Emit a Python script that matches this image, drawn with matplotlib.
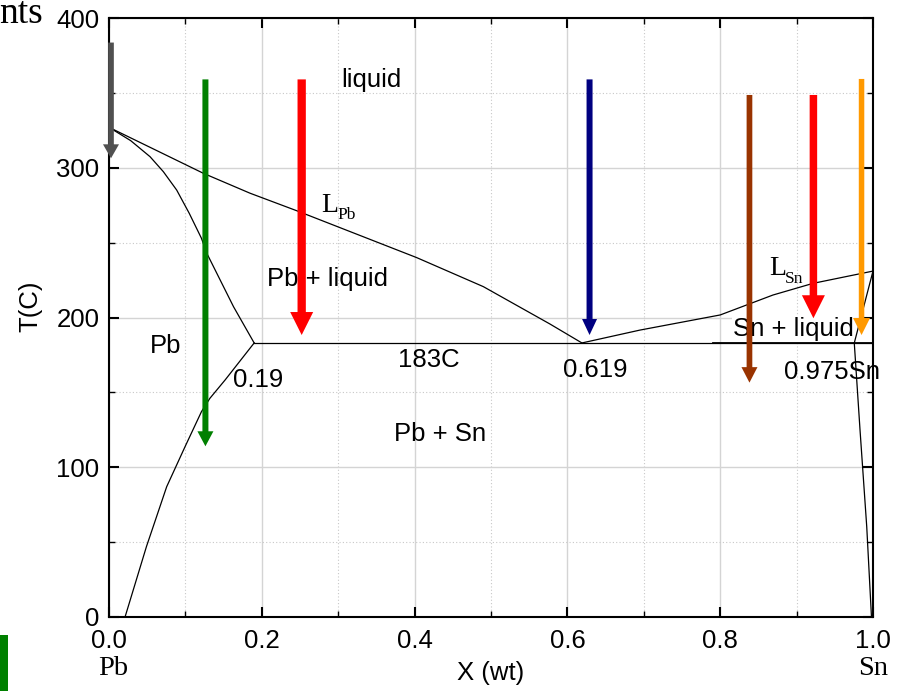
import matplotlib
matplotlib.use("Agg")
import matplotlib.pyplot as plt
from matplotlib.ticker import MultipleLocator
from matplotlib.patches import Rectangle

# ---------------- data ----------------
pb_liquidus_x = [0.0, 0.1235, 0.1846, 0.2457, 0.4027, 0.49, 0.577, 0.619]
pb_liquidus_T = [327, 296.3, 283, 271.3, 240, 220.6, 195.7, 183]

pb_solidus_x = [0.0, 0.0284, 0.0537, 0.0711, 0.0886, 0.105, 0.121, 0.128, 0.163, 0.19]
pb_solidus_T = [327, 318.1, 307.4, 297.4, 285.1, 269.6, 252.9, 242.9, 207.2, 183]

pb_solvus_x = [0.19, 0.152, 0.132, 0.121, 0.0995, 0.0755, 0.049, 0.021]
pb_solvus_T = [183, 158.3, 146, 137.1, 113.7, 87, 47, 0]

sn_liquidus_x = [0.619, 0.695, 0.8, 0.869, 0.9215, 1.0]
sn_liquidus_T = [183, 191.6, 201.7, 215, 222.8, 231]

sn_solidus_x = [1.0, 0.9755]
sn_solidus_T = [231, 183]

sn_solvus_x = [0.9755, 0.983, 0.9918, 0.998]
sn_solvus_T = [183, 125, 60.3, 0]

eutectic_x = [0.19, 1.0]
eutectic_T = [183, 183]

arrow_x = [0.0026, 0.1262, 0.2522, 0.629, 0.8383, 0.922, 0.985]
arrow_start_T = [383.6, 359, 359, 359, 348.6, 348.6, 359.3]
arrow_end_T = [306.3, 114, 188.3, 188.3, 156.5, 199.5, 188.3]

x_ticks = [0.0, 0.2, 0.4, 0.6, 0.8, 1.0]
x_ticklabels = ["0.0", "0.2", "0.4", "0.6", "0.8", "1.0"]
y_ticks = [0, 100, 200, 300, 400]
y_ticklabels = ["0", "100", "200", "300", "400"]

# ---------------- styles ----------------
arrow_colors = ['#505050', '#008000', '#ff0000', '#000080', '#993300', '#ff0000', '#ff9900']
# tail width, head width, head length (pixels)
arrow_sizes = [(5.7, 16, 14), (6, 16, 15), (8.3, 23, 23), (6, 15, 16),
               (5.7, 16, 15.5), (7.5, 23, 23), (5.5, 17, 17)]

SANS = 'Liberation Sans'
SERIF = 'Liberation Serif'
FS = 18.5

W, H = 899, 691
fig = plt.figure(figsize=(W / 100, H / 100), dpi=100)
ax = fig.add_axes([109 / W, 1 - 617 / H, (873 - 109) / W, (617 - 18) / H])

ax.set_xlim(0, 1)
ax.set_ylim(0, 400)

# grids
ax.xaxis.set_major_locator(MultipleLocator(0.2))
ax.xaxis.set_minor_locator(MultipleLocator(0.1))
ax.yaxis.set_major_locator(MultipleLocator(100))
ax.yaxis.set_minor_locator(MultipleLocator(50))
ax.grid(True, which='major', color='#d4d4d4', linewidth=1.0, linestyle='-', zorder=0)
ax.grid(True, which='minor', color='#c8c8c8', linewidth=0.8, linestyle=(0, (1, 2)), zorder=0)
ax.set_axisbelow(True)

ax.set_xticks(x_ticks)
ax.set_xticklabels(x_ticklabels, fontfamily=SANS, fontsize=FS)
ax.set_yticks(y_ticks)
ax.set_yticklabels(y_ticklabels, fontfamily=SANS, fontsize=FS)
ax.tick_params(which='both', direction='in', top=True, right=True, color='black')
ax.tick_params(which='major', length=7, width=1.5)
ax.tick_params(which='minor', length=4, width=1.0)
ax.tick_params(axis='x', which='major', pad=9)
ax.tick_params(axis='y', which='major', pad=7)
for s in ax.spines.values():
    s.set_linewidth(1.5)

# phase boundaries
lkw = dict(color='black', linewidth=0.9, zorder=3)
ax.plot(pb_liquidus_x, pb_liquidus_T, **lkw)
ax.plot(pb_solidus_x, pb_solidus_T, **lkw)
ax.plot(pb_solvus_x, pb_solvus_T, **lkw)
ax.plot(sn_liquidus_x, sn_liquidus_T, **lkw)
ax.plot(sn_solidus_x, sn_solidus_T, **lkw)
ax.plot(sn_solvus_x, sn_solvus_T, **lkw)
ax.plot(eutectic_x, eutectic_T, **lkw)
ax.plot([0.79, 1.0], [183, 183], color='black', linewidth=1.3, zorder=3)

# arrows
pt = 0.72  # points per pixel at 100 dpi
for x, t0, t1, c, (tw, hw, hl) in zip(arrow_x, arrow_start_T, arrow_end_T, arrow_colors, arrow_sizes):
    style = f"simple,tail_width={tw * pt},head_width={hw * pt},head_length={hl * pt}"
    ax.annotate('', xy=(x, t1), xytext=(x, t0),
                arrowprops=dict(arrowstyle=style, color=c, mutation_scale=1,
                                shrinkA=0, shrinkB=0, linewidth=0),
                zorder=6, annotation_clip=False)

# region labels
tkw = dict(fontfamily=SANS, fontsize=FS, ha='center', va='baseline', zorder=4)
ax.text(0.3434, 354.1, 'liquid', **tkw)
ax.text(0.286, 221.0, 'Pb + liquid', **tkw)
ax.text(0.074, 176.3, 'Pb', **tkw)
ax.text(0.1954, 153.8, '0.19', **tkw)
ax.text(0.4186, 166.7, '183C', **tkw)
ax.text(0.6367, 160.5, '0.619', **tkw)
ax.text(0.4332, 117.7, 'Pb + Sn', **tkw)
ax.text(0.8953, 187.6, 'Sn + liquid',
        bbox=dict(facecolor='white', edgecolor='none', pad=0.5), **tkw)
ax.text(0.9463, 158.9, '0.975Sn', **tkw)

skw = dict(fontfamily=SERIF, ha='left', va='baseline', zorder=4)
ax.text(0.2784, 270.7, 'L', fontsize=20, **skw)
ax.text(0.2984, 265.8, 'Pb', fontsize=12.5, **skw)
ax.text(0.8643, 228.4, 'L', fontsize=20, **skw)
ax.text(0.8848, 222.8, 'Sn', fontsize=12.5, **skw)

# axis labels
fig.text(30.5 / W, 1 - 306 / H, 'T(C)', rotation=90, ha='center', va='center',
         fontfamily=SANS, fontsize=FS)
fig.text(490.8 / W, 1 - 673.3 / H, 'X (wt)', ha='center', va='center',
         fontfamily=SANS, fontsize=FS)
fig.text(113.3 / W, 1 - 675 / H, 'Pb', ha='center', va='baseline',
         fontfamily=SERIF, fontsize=20.5)
fig.text(873 / W, 1 - 675 / H, 'Sn', ha='center', va='baseline',
         fontfamily=SERIF, fontsize=20.5)

# slide remnants
fig.text(43 / W, 1 - 23.3 / H, 'nts', ha='right', va='baseline',
         fontfamily=SERIF, fontsize=27)
fig.patches.append(Rectangle((0, 0), 8.3 / W, 56 / H, transform=fig.transFigure,
                             facecolor='#008000', edgecolor='none'))

fig.savefig('out.png', dpi=100)
